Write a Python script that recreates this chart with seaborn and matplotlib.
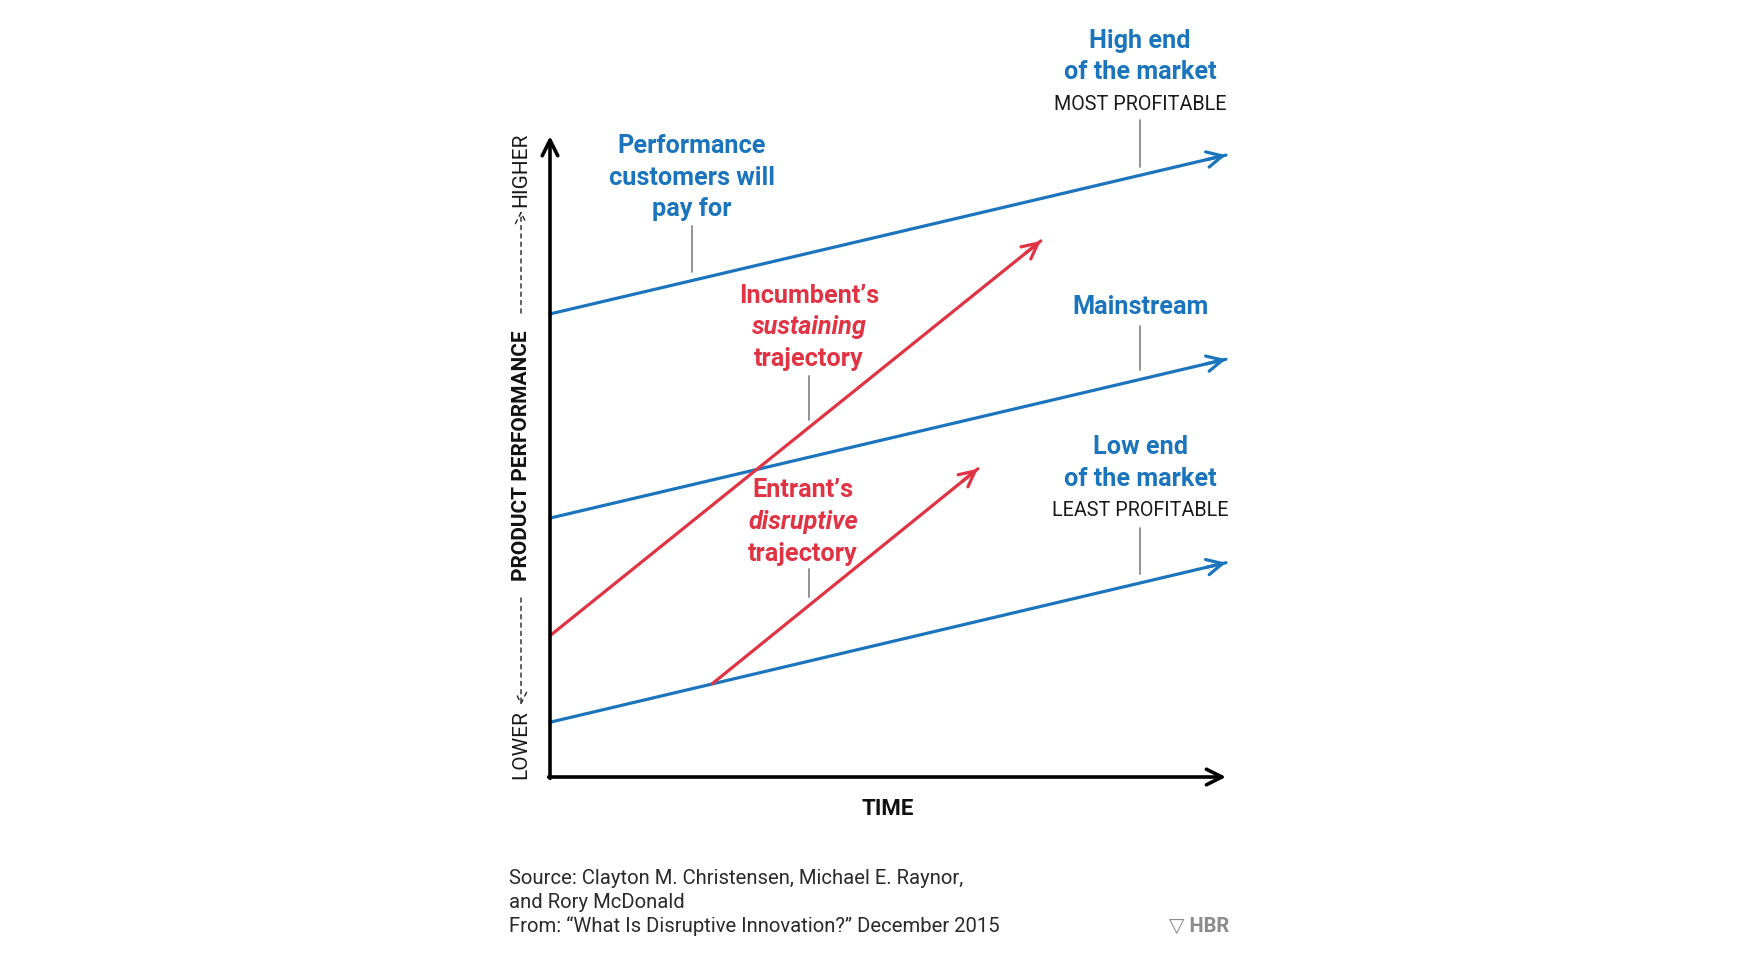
import numpy as np
import pandas as pd
import matplotlib
matplotlib.use("Agg")
import matplotlib.pyplot as plt
import seaborn as sns

# market tiers (blue) and technology trajectories (red), x = time, y = performance
market_names = ["high", "mainstream", "low"]
market_x = [[0, 10], [0, 10], [0, 10]]
market_y = [[6.85, 9.20], [3.83, 6.18], [0.81, 3.17]]

traj_names = ["incumbent", "entrant"]
traj_x = [[0, 7.26], [2.40, 6.33]]
traj_y = [[2.09, 7.93], [1.38, 4.56]]

BLUE = "#1b75bc"
RED = "#e03445"

sns.set_theme(style="white")
plt.rcParams["font.family"] = ["Roboto", "DejaVu Sans"]

rows = []
for n, xs, ys in zip(market_names, market_x, market_y):
    for x, y in zip(xs, ys):
        rows.append({"line": n, "x": x, "y": y})
for n, xs, ys in zip(traj_names, traj_x, traj_y):
    for x, y in zip(xs, ys):
        rows.append({"line": n, "x": x, "y": y})
df = pd.DataFrame(rows)
pal = {n: BLUE for n in market_names}
pal.update({n: RED for n in traj_names})

fig = plt.figure(figsize=(17.44, 9.58), dpi=100)
ax = fig.add_axes([0, 0, 1, 1])
px = 67.6  # pixels per data unit
ax.set_xlim(-550 / px, (1744 - 550) / px)
ax.set_ylim((777 - 958) / px, 777 / px)
ax.axis("off")

sns.lineplot(data=df, x="x", y="y", hue="line", palette=pal, units="line",
             estimator=None, sort=False, linewidth=2.3, legend=False, ax=ax)

def head(x0, y0, x1, y1, color):
    dx, dy = x1 - x0, y1 - y0
    L = np.hypot(dx, dy)
    ax.annotate("", xy=(x1, y1), xytext=(x1 - 0.3 * dx / L, y1 - 0.3 * dy / L),
                arrowprops=dict(arrowstyle="->", color=color, lw=2.3,
                                mutation_scale=28, shrinkA=0, shrinkB=0))

for xs, ys in zip(market_x, market_y):
    head(xs[0], ys[0], xs[1], ys[1], BLUE)
for xs, ys in zip(traj_x, traj_y):
    head(xs[0], ys[0], xs[1], ys[1], RED)

# axes arrows
x_end, y_end = 10, 9.48
ax.annotate("", xy=(x_end, 0), xytext=(-0.02, 0),
            arrowprops=dict(arrowstyle="->", color="black", lw=2.6,
                            mutation_scale=28, shrinkA=0, shrinkB=0))
ax.annotate("", xy=(0, y_end), xytext=(0, -0.02),
            arrowprops=dict(arrowstyle="->", color="black", lw=2.6,
                            mutation_scale=28, shrinkA=0, shrinkB=0))

def p2d(x, y):
    return ((x - 550) / px, (777 - y) / px)

lbl = dict(fontsize=18.2, fontweight="bold", ha="center", va="center")

def block(cx, ys, lines, color, styles=None):
    for i, (y, t) in enumerate(zip(ys, lines)):
        st = styles[i] if styles else "normal"
        ax.text(*p2d(cx, y), t, color=color, style=st, **lbl)

block(692, [146, 178, 209], ["Performance", "customers will", "pay for"], BLUE)
block(1140, [41, 72], ["High end", "of the market"], BLUE)
ax.text(*p2d(1140, 104), "MOST PROFITABLE", fontsize=14.2,
        ha="center", va="center", color="#1a1a1a")
block(1140, [307], ["Mainstream"], BLUE)
block(1140, [447, 479], ["Low end", "of the market"], BLUE)
ax.text(*p2d(1140, 511), "LEAST PROFITABLE", fontsize=14.2,
        ha="center", va="center", color="#1a1a1a")
block(809, [296, 327, 359], ["Incumbent\u2019s", "sustaining", "trajectory"], RED,
      ["normal", "italic", "normal"])
block(803, [490, 522, 554], ["Entrant\u2019s", "disruptive", "trajectory"], RED,
      ["normal", "italic", "normal"])

# leader lines
leaders_x = [692, 1140, 1140, 1140, 809, 809]
leaders_y = [(226, 272), (120, 167), (326, 370), (528, 574), (376, 420), (569, 597)]
for lx, (ya, yb) in zip(leaders_x, leaders_y):
    a, b = p2d(lx, ya), p2d(lx, yb)
    ax.plot([a[0], b[0]], [a[1], b[1]], color="#8a8a8a", lw=1.3)

# axis titles
ax.text(*p2d(888, 809), "TIME", fontsize=16, fontweight="bold", ha="center", va="center", color="#111111")
ax.text(*p2d(521, 456), "PRODUCT PERFORMANCE", fontsize=15, fontweight="bold",
        rotation=90, ha="center", va="center", color="#111111")
ax.text(*p2d(521, 170), "HIGHER", fontsize=15, rotation=90,
        ha="center", va="center", color="#1a1a1a")
ax.text(*p2d(521, 745), "LOWER", fontsize=15, rotation=90,
        ha="center", va="center", color="#1a1a1a")
for ya, yb in [(313, 211), (598, 705)]:
    ax.annotate("", xy=p2d(521, yb), xytext=p2d(521, ya),
                arrowprops=dict(arrowstyle="->", color="#222222", lw=1.0, ls=(0, (3, 3)),
                                mutation_scale=20, shrinkA=0, shrinkB=0))

# footer
src = ["Source: Clayton M. Christensen, Michael E. Raynor,", "and Rory McDonald",
       "From: \u201cWhat Is Disruptive Innovation?\u201d December 2015"]
for y, t in zip([879, 902, 926], src):
    ax.text(*p2d(509, y), t, fontsize=14.6, ha="left", va="center", color="#2a2a2a")
ax.text(*p2d(1229, 926), "\u25bd HBR", fontsize=14.5, fontweight="bold", ha="right", va="center", color="#8c8c8c")

fig.savefig("out.png", dpi=100)
